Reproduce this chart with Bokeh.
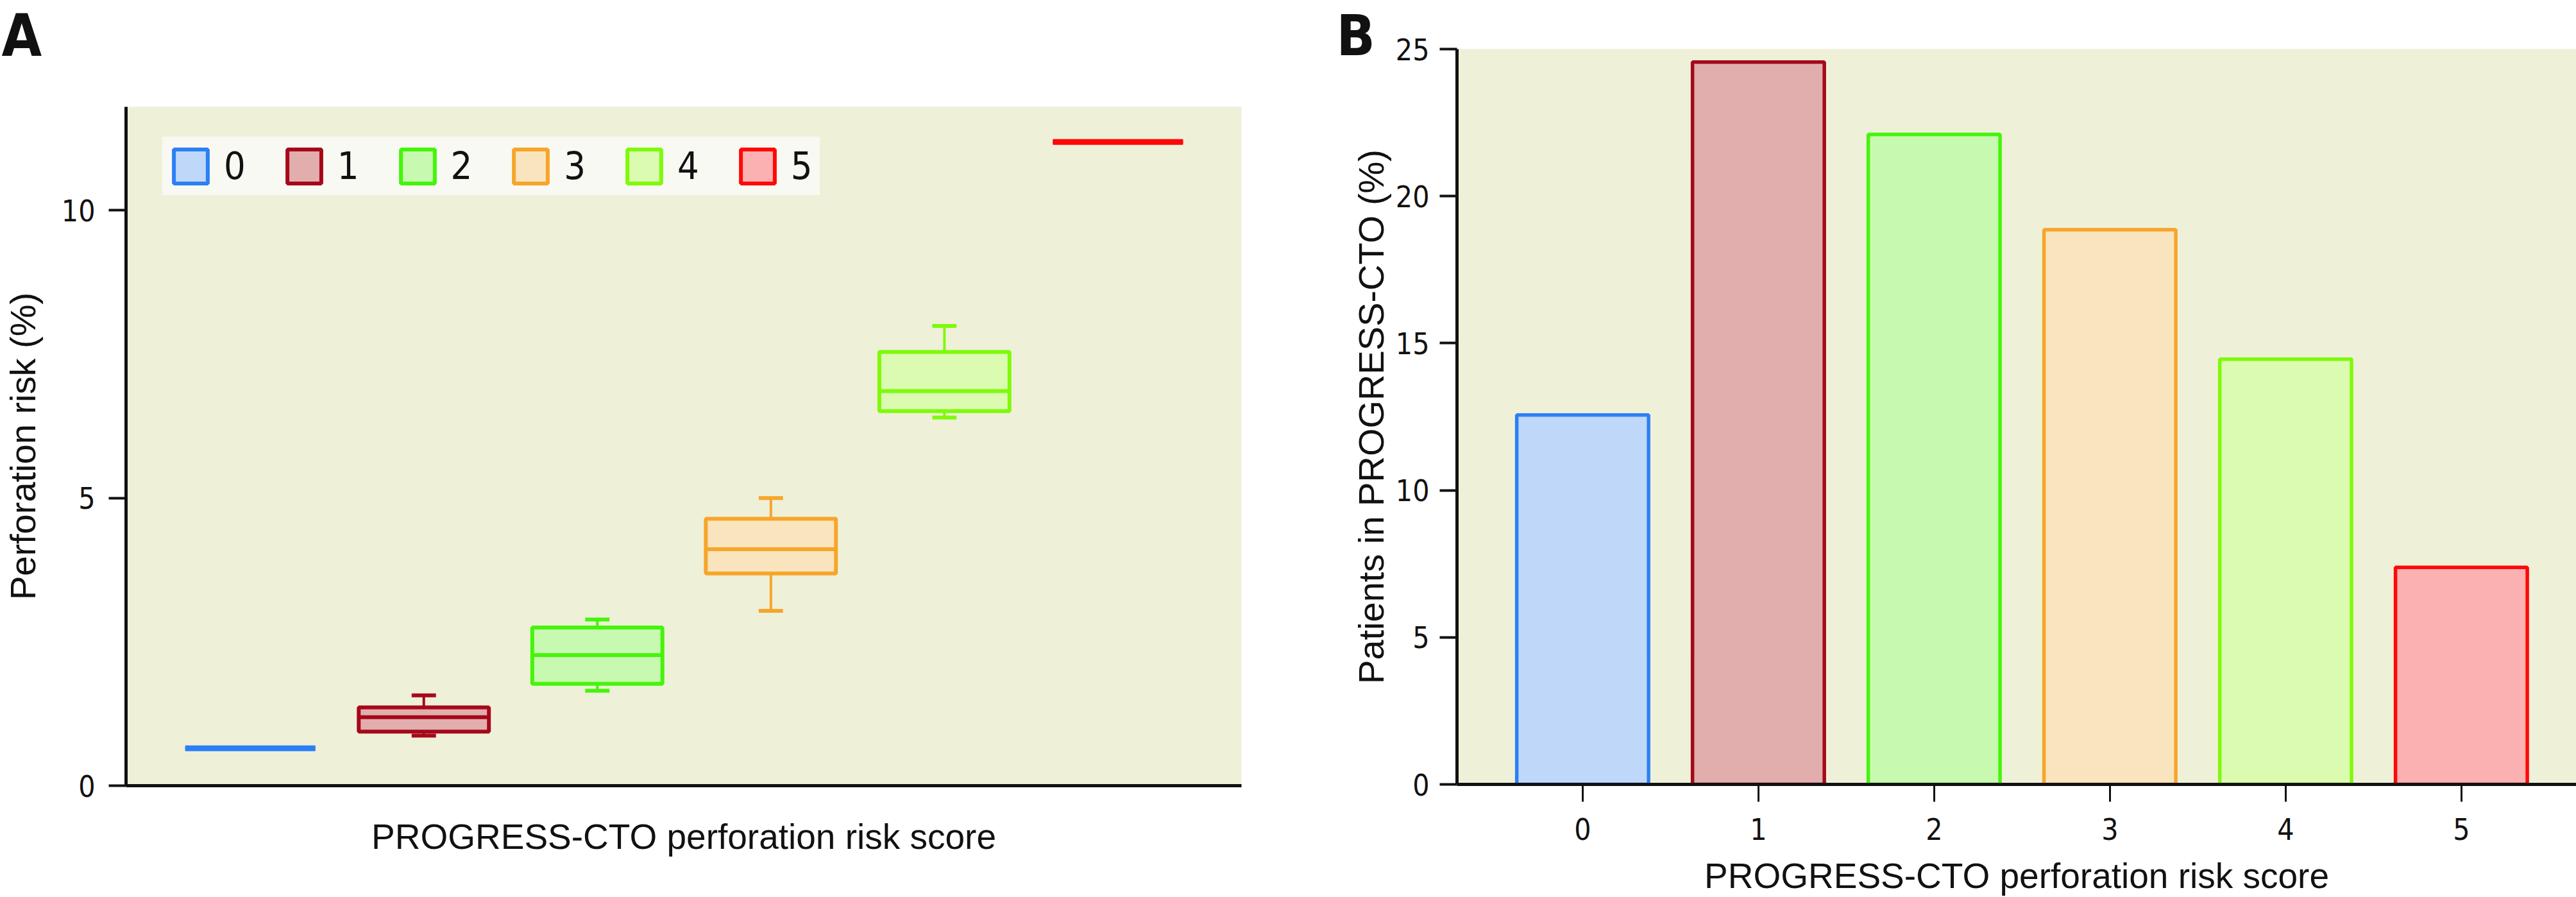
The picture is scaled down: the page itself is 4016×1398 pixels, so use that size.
from bokeh.plotting import figure
from bokeh.models import ColumnDataSource, FixedTicker, Legend, LegendItem, Label, Range1d, Spacer
from bokeh.layouts import row, column
from bokeh.embed import file_html
from bokeh.resources import INLINE

# ---------------- data ----------------
scores = [0, 1, 2, 3, 4, 5]
score_labels = ["0", "1", "2", "3", "4", "5"]

# Panel A: perforation risk (%) box plots
risk_low = [0.65, 0.87, 1.65, 3.04, 6.40, 11.19]
risk_q1 = [0.65, 0.94, 1.77, 3.69, 6.51, 11.19]
risk_median = [0.65, 1.19, 2.27, 4.11, 6.86, 11.19]
risk_q3 = [0.65, 1.36, 2.75, 4.64, 7.54, 11.19]
risk_high = [0.65, 1.57, 2.89, 5.00, 7.99, 11.19]

# Panel B: patients in PROGRESS-CTO (%)
patients_pct = [12.56, 24.56, 22.10, 18.86, 14.46, 7.38]

border_colors = ["#2B80F5", "#A5081A", "#44F50A", "#F7A52A", "#7FFA0A", "#FF0808"]
fill_colors = ["#BFD8F9", "#E1AEAD", "#C8F9B0", "#FAE4BE", "#DAFBB0", "#FBB1B1"]

x_title = "PROGRESS-CTO perforation risk score"

NARROW = "DejaVu Sans Condensed, Roboto"
REG = "Liberation Sans"
BG = "#EFF0D8"
LEG_BG = "#F9F9F3"
INK = "#111111"

BOX_W = 0.75
CAP_W = 0.14


def style_axis(ax):
    ax.axis_line_width = 5
    ax.axis_line_color = INK
    ax.major_tick_line_color = INK
    ax.major_tick_line_width = 4
    ax.major_tick_in = 0
    ax.major_tick_out = 27
    ax.minor_tick_line_color = None
    ax.major_label_text_font = NARROW
    ax.major_label_text_font_size = "46px"
    ax.major_label_text_color = INK
    ax.axis_label_text_font = REG
    ax.axis_label_text_font_style = "normal"
    ax.axis_label_text_color = INK


# ---------------- panel A ----------------
pA = figure(width=2040, height=1398,
            x_range=Range1d(-0.716, 5.712), y_range=Range1d(0, 11.8),
            output_backend="svg", toolbar_location=None,
            min_border_left=193, min_border_right=105,
            min_border_top=166, min_border_bottom=174,
            background_fill_color=BG, border_fill_color="white",
            outline_line_color=None)
pA.grid.visible = False

srcA = ColumnDataSource(dict(
    x=scores, low=risk_low, q1=risk_q1, med=risk_median, q3=risk_q3, high=risk_high,
    x0=[s - BOX_W / 2 for s in scores], x1=[s + BOX_W / 2 for s in scores],
    c0=[s - CAP_W / 2 for s in scores], c1=[s + CAP_W / 2 for s in scores],
    line=border_colors, fill=fill_colors,
    mlw=[9 if a == b else 6 for a, b in zip(risk_q1, risk_q3)],
))

pA.segment(x0="x", y0="q3", x1="x", y1="high", line_color="line", line_width=4, source=srcA)
pA.segment(x0="x", y0="q1", x1="x", y1="low", line_color="line", line_width=4, source=srcA)
pA.segment(x0="c0", y0="high", x1="c1", y1="high", line_color="line", line_width=6, source=srcA)
pA.segment(x0="c0", y0="low", x1="c1", y1="low", line_color="line", line_width=6, source=srcA)
boxes = pA.vbar(x="x", width=BOX_W, bottom="q1", top="q3", fill_color="fill",
                line_color="line", line_width=6, source=srcA)
pA.segment(x0="x0", y0="med", x1="x1", y1="med", line_color="line", line_width="mlw", source=srcA)

pA.xaxis.ticker = FixedTicker(ticks=[])
pA.yaxis.ticker = FixedTicker(ticks=[0, 5, 10])
style_axis(pA.xaxis[0])
style_axis(pA.yaxis[0])
pA.xaxis.axis_label = x_title
pA.xaxis.axis_label_text_font_size = "55px"
pA.xaxis.axis_label_standoff = 48
pA.yaxis.axis_label = "Perforation risk (%)"
pA.yaxis.axis_label_text_font_size = "56px"
pA.yaxis.axis_label_standoff = 26
pA.yaxis.major_label_standoff = 21

legend = Legend(
    items=[LegendItem(label=score_labels[i], renderers=[boxes], index=i) for i in range(len(scores))],
    orientation="horizontal", location=(57, 1058 - 49 - 89),
    background_fill_color=LEG_BG, background_fill_alpha=1.0,
    border_line_color=LEG_BG, border_line_width=1,
    label_text_font=NARROW, label_text_font_size="59px",
    label_text_color=INK, glyph_width=66, glyph_height=66, label_standoff=19,
    spacing=58, padding=10, margin=0,
)
pA.add_layout(legend)

pA.add_layout(Label(x=2, y=55, x_units="canvas", y_units="canvas", text="A",
                    text_font=NARROW, text_font_size="90px", text_font_style="bold",
                    text_baseline="alphabetic", text_align="left", text_color=INK), "above")

# ---------------- panel B ----------------
pB = figure(width=1976, height=1397,
            x_range=Range1d(-0.715, 5.654), y_range=Range1d(0, 25),
            output_backend="svg", toolbar_location=None,
            min_border_left=231, min_border_right=0,
            min_border_top=75, min_border_bottom=176,
            background_fill_color=BG, border_fill_color="white",
            outline_line_color=None)
pB.grid.visible = False

srcB = ColumnDataSource(dict(x=scores, top=patients_pct, line=border_colors, fill=fill_colors))
pB.vbar(x="x", width=BOX_W, bottom=0, top="top", fill_color="fill", line_color="line",
        line_width=5.5, source=srcB)

pB.xaxis.ticker = FixedTicker(ticks=scores)
pB.xaxis.major_label_overrides = {s: l for s, l in zip(scores, score_labels)}
pB.yaxis.ticker = FixedTicker(ticks=[0, 5, 10, 15, 20, 25])
style_axis(pB.xaxis[0])
style_axis(pB.yaxis[0])
pB.xaxis.major_tick_line_width = 3
pB.xaxis.major_label_standoff = 25
pB.xaxis.axis_label = x_title
pB.xaxis.axis_label_text_font_size = "55px"
pB.xaxis.axis_label_standoff = 22
pB.yaxis.axis_label = "Patients in PROGRESS-CTO (%)"
pB.yaxis.axis_label_text_font_size = "56px"
pB.yaxis.axis_label_standoff = 4
pB.yaxis.major_label_standoff = 16

pB.add_layout(Label(x=43, y=54, x_units="canvas", y_units="canvas", text="B",
                    text_font=NARROW, text_font_size="88px", text_font_style="bold",
                    text_baseline="alphabetic", text_align="left", text_color=INK), "left")

layout = row(pA, column(Spacer(width=1976, height=1), pB))
open("out.html", "w").write(file_html(layout, INLINE))
